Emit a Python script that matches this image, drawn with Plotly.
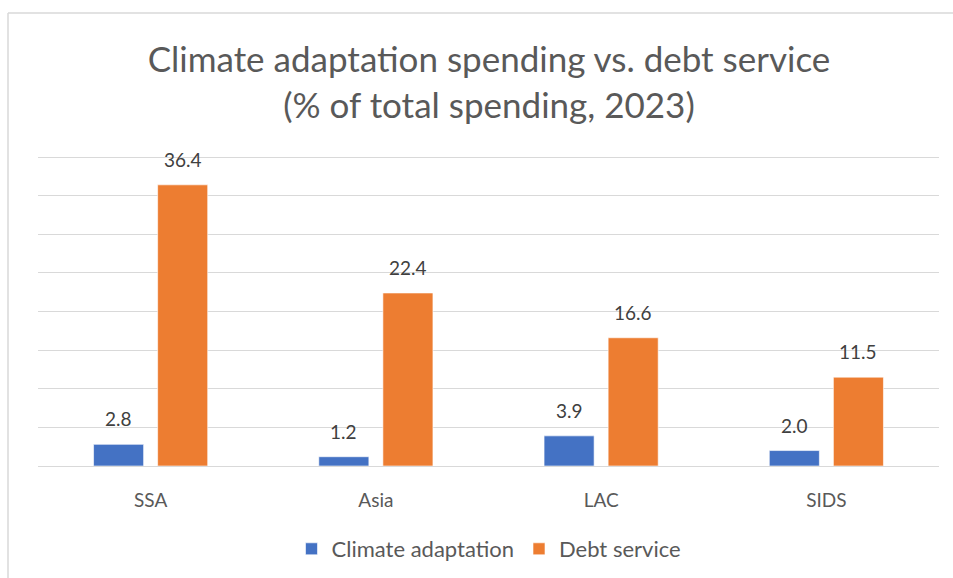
import plotly.graph_objects as go

regions = ["SSA", "Asia", "LAC", "SIDS"]
climate_adaptation = [2.8, 1.2, 3.9, 2.0]
debt_service = [36.4, 22.4, 16.6, 11.5]

FONT = "Lato"
BLUE = "#4472C4"
ORANGE = "#ED7D31"

fig = go.Figure()
fig.add_trace(go.Bar(name="Climate adaptation", x=regions, y=climate_adaptation,
                     marker=dict(color=BLUE, line=dict(color="white", width=0.6))))
fig.add_trace(go.Bar(name="Debt service", x=regions, y=debt_service,
                     marker=dict(color=ORANGE, line=dict(color="white", width=0.6))))

# value labels above each bar
annotations = []
for series, shift in ((climate_adaptation, -32), (debt_service, 32)):
    for cat, v in zip(regions, series):
        annotations.append(dict(x=cat, y=v, xref="x", yref="y", text=f"{v:.1f}",
                                showarrow=False, yanchor="bottom", xshift=shift, yshift=12,
                                font=dict(family=FONT, size=19, color="#404040")))

PLOT_TOP = 153     # pixel row of the plot area's top edge
PLOT_BOTTOM = 466  # pixel row of the baseline
span = PLOT_BOTTOM - PLOT_TOP

fig.update_layout(
    width=953, height=578,
    margin=dict(l=38, r=14, t=PLOT_TOP, b=578 - PLOT_BOTTOM),
    paper_bgcolor="white", plot_bgcolor="white",
    barmode="group", bargap=0.431, bargroupgap=0.219,
    title=dict(text="Climate adaptation spending vs. debt service<br>(% of total spending, 2023)",
               x=489 / 953, xanchor="center", xref="container",
               y=1 - 72 / 578, yanchor="top", yref="container",
               font=dict(family=FONT, size=35, color="#595959")),
    xaxis=dict(showgrid=False, showline=True, linecolor="#d9d9d9", linewidth=1,
               ticks="", ticklabelstandoff=17,
               tickfont=dict(family=FONT, size=19, color="#595959")),
    yaxis=dict(range=[0, 40.52], tickvals=[0, 5, 10, 15, 20, 25, 30, 35, 40],
               showticklabels=False, showgrid=True,
               gridcolor="#d9d9d9", gridwidth=1, zeroline=False, showline=False),
    legend=dict(orientation="h", x=489 / 953, xanchor="center", xref="container",
                y=1 - 549 / 578, yanchor="middle", yref="container",
                font=dict(family=FONT, size=22, color="#595959"),
                itemwidth=30, traceorder="normal"),
    annotations=annotations,
    shapes=[
        dict(type="line", xref="paper", yref="paper",
             x0=-30 / 901, x1=1.03, y0=(PLOT_BOTTOM - 13) / span, y1=(PLOT_BOTTOM - 13) / span,
             line=dict(color="#d9d9d9", width=1.5)),
        dict(type="line", xref="paper", yref="paper",
             x0=-30 / 901, x1=-30 / 901, y0=-0.45, y1=(PLOT_BOTTOM - 13) / span,
             line=dict(color="#d9d9d9", width=1.5)),
    ],
    showlegend=True,
)

fig.write_html("out.html")
